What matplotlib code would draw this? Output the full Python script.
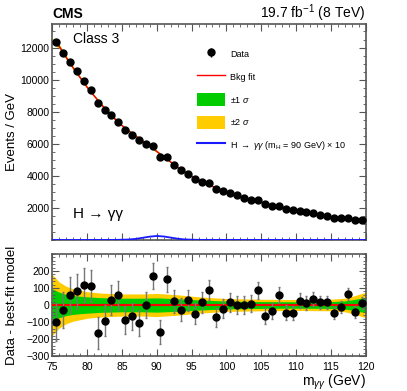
import numpy as np
import matplotlib
matplotlib.use('Agg')
import matplotlib.pyplot as plt
from matplotlib.lines import Line2D
from matplotlib.patches import Patch
from matplotlib.ticker import MultipleLocator

plt.rcParams['font.family'] = ['Liberation Sans', 'DejaVu Sans']
plt.rcParams['mathtext.fontset'] = 'custom'
plt.rcParams['mathtext.rm'] = 'Liberation Sans'
plt.rcParams['mathtext.it'] = 'Liberation Sans:italic'

# bin centres, 1 GeV bins
mass = np.arange(75.5, 120, 1.0)

# events per GeV
counts = [12330, 11690, 11090, 10510, 9930, 9355, 8570, 8115, 7780, 7370,
          6875, 6565, 6210, 6010, 5860, 5200, 5200, 4705, 4350, 4105,
          3795, 3630, 3525, 3175, 3050, 2945, 2785, 2635, 2510, 2490,
          2245, 2140, 2140, 1955, 1850, 1830, 1730, 1685, 1580, 1520,
          1375, 1360, 1375, 1235, 1235]

# data - fit
resid = [-98, -29, 57, 80, 120, 112, -165, -92, 31, 58,
         -86, -67, -106, 1, 170, -158, 150, 21, -27, 27,
         -52, 15, 88, -73, -21, 15, 1, 1, 7, 86,
         -67, -37, 57, -46, -46, 25, 11, 35, 15, 15,
         -46, -13, 64, -40, 9]

# fit uncertainty bands (half widths)
band_x = [75, 76, 77, 78, 80, 82, 85, 88, 90, 93, 96, 100, 105, 110, 115, 117, 118, 119, 120]
sig2 = [180, 135, 110, 95, 78, 70, 65, 65, 68, 60, 48, 38, 34, 32, 34, 40, 50, 62, 75]
sig1 = [95, 75, 62, 55, 48, 43, 40, 40, 42, 37, 30, 23, 20, 19, 20, 24, 30, 38, 45]

# signal model mH = 90 GeV, x10
sig_x = [75, 84, 86, 87, 88, 89, 90, 91, 92, 93, 94, 96, 120]
sig_y = [0, 5, 30, 70, 140, 210, 250, 220, 150, 80, 35, 8, 0]

counts = np.array(counts, dtype=float)
resid = np.array(resid, dtype=float)
errs = np.sqrt(counts)
fit = counts - resid
band_fit = np.interp(band_x, mass, fit, left=fit[0], right=fit[-1])

fig = plt.figure(figsize=(4.07, 3.91), dpi=100)
ax = fig.add_axes([0.1285, 0.3862, 0.770, 0.5517])
ax2 = fig.add_axes([0.1285, 0.0895, 0.770, 0.2609])

yellow = '#ffcc00'
green = '#00cc00'
spine_col = '#555555'

# upper panel
ax.fill_between(band_x, band_fit - np.array(sig2), band_fit + np.array(sig2), color=yellow, lw=0)
ax.fill_between(band_x, band_fit - np.array(sig1), band_fit + np.array(sig1), color=green, lw=0)
ax.plot(mass, fit, color='red', lw=1.0, zorder=3)
ax.plot(sig_x, sig_y, color='#1a1aff', lw=1.3, zorder=3)
data_h = ax.errorbar(mass, counts, yerr=errs, fmt='o', color='black', ms=5, elinewidth=1,
                     capsize=0, zorder=4)
ax.set_xlim(75, 120)
ax.set_ylim(0, 13450)
ax.set_yticks(np.arange(2000, 13000, 2000))
ax.yaxis.set_minor_locator(MultipleLocator(500))
ax.xaxis.set_major_locator(MultipleLocator(5))
ax.xaxis.set_minor_locator(MultipleLocator(1))
ax.tick_params(axis='x', labelbottom=False)
ax.set_ylabel('Events / GeV', fontsize=9.5)

# lower panel
ax2.fill_between(band_x, -np.array(sig2), sig2, color=yellow, lw=0)
ax2.fill_between(band_x, -np.array(sig1), sig1, color=green, lw=0)
ax2.axhline(0, color='red', lw=1.5, zorder=3)
ax2.errorbar(mass, resid, yerr=errs, fmt='o', color='black', ecolor='#777777', ms=5,
             elinewidth=1, capsize=1, zorder=4)
ax2.set_xlim(75, 120)
ax2.set_ylim(-300, 300)
ax2.set_yticks(np.arange(-300, 201, 100))
ax2.yaxis.set_minor_locator(MultipleLocator(20))
ax2.xaxis.set_major_locator(MultipleLocator(5))
ax2.xaxis.set_minor_locator(MultipleLocator(1))
ax2.set_ylabel('Data - best-fit model', fontsize=9.5)
ax2.set_xlabel(r'm$_{\gamma\gamma}$ (GeV)', fontsize=10, loc='right', labelpad=1)

for a in (ax, ax2):
    a.tick_params(which='both', direction='in', top=True, right=True, labelsize=7.5,
                  color=spine_col, pad=2)
    a.tick_params(which='major', length=5)
    a.tick_params(which='minor', length=2.5)
    for s in a.spines.values():
        s.set_color(spine_col)
        s.set_linewidth(1.2)
ax2.tick_params(axis='x', pad=4)
ax.yaxis.set_label_coords(-0.11, 0.5)
ax2.yaxis.set_label_coords(-0.11, 0.5)

# texts
fig.text(0.1285, 0.955, 'CMS', fontsize=10, fontweight='bold', ha='left', va='baseline')
fig.text(0.8985, 0.955, r'19.7 fb$^{-1}$ (8 TeV)', fontsize=10, ha='right', va='baseline')
ax.text(0.065, 0.93, 'Class 3', transform=ax.transAxes, fontsize=10, va='center')
ax.text(0.065, 0.122, 'H → γγ', transform=ax.transAxes, fontsize=11, va='center')

handles = [
    data_h,
    Line2D([], [], color='red', lw=1),
    Patch(facecolor=green, edgecolor='none'),
    Patch(facecolor=yellow, edgecolor='none'),
    Line2D([], [], color='#1a1aff', lw=1.5),
]
labels = ['Data', 'Bkg fit', r'$\pm$1 $\sigma$', r'$\pm$2 $\sigma$',
          r'H $\rightarrow$ $\gamma\gamma$ (m$_{\rm H}$ = 90 GeV) $\times$ 10']
ax.legend(handles, labels, loc='upper left', bbox_to_anchor=(0.45, 0.91), frameon=False,
          fontsize=6.5, handlelength=3.1, handleheight=1.9, labelspacing=1.05,
          handletextpad=0.6, borderaxespad=0)

fig.savefig('out.png', dpi=100)
